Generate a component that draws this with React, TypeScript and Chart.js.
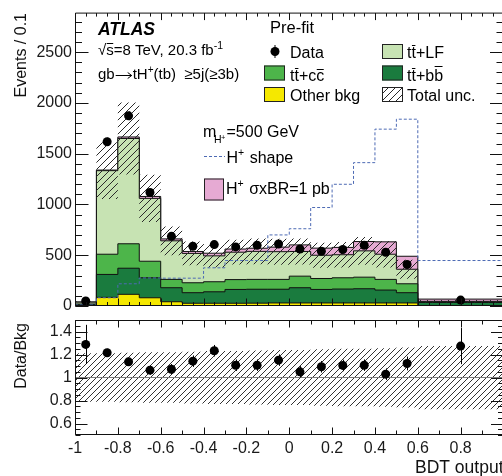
import { useEffect, useRef } from "react";
import { Chart, registerables } from "chart.js";

Chart.register(...registerables);

const FONT = "'Liberation Sans', Arial, Helvetica, sans-serif";

// ---------------- data ----------------
const binEdges = [-1, -0.9, -0.8, -0.7, -0.6, -0.5, -0.4, -0.3, -0.2, -0.1, 0, 0.1, 0.2, 0.3, 0.4, 0.5, 0.6, 1.0];
const otherBkg = [3, 85, 115, 81, 42, 27, 27, 27, 28, 30, 30, 30, 30, 30, 30, 30, 5];
const ttbb = [9, 226, 257, 197, 138, 104, 113, 136, 137, 135, 150, 133, 137, 140, 127, 101, 30];
const ttcc = [8, 199, 241, 163, 82, 98, 99, 97, 97, 97, 114, 108, 111, 114, 105, 88, 5];
const ttLF = [18, 823, 1037, 619, 380, 289, 255, 270, 276, 273, 243, 229, 227, 259, 248, 143, 6];
const hSignal = [2, 6, 15, 19, 19, 19, 26, 31, 31, 45, 65, 70, 72, 92, 122, 128, 22];
const hShape = [10, 81, 219, 276, 274, 274, 376, 448, 448, 700, 761, 970, 1199, 1412, 1742, 1840, 448];
const dataCounts = [49, 1618, 1873, 1118, 686, 588, 605, 582, 598, 611, 562, 539, 556, 598, 529, 409, 58];
const dataErr = [8, 40, 43, 33, 26, 24, 25, 24, 24, 25, 24, 23, 24, 24, 23, 20, 8];
const totalUnc = [0.21, 0.21, 0.215, 0.22, 0.22, 0.225, 0.23, 0.23, 0.235, 0.24, 0.24, 0.245, 0.25, 0.25, 0.255, 0.26, 0.275];
const ratioVals = [1.288, 1.215, 1.136, 1.064, 1.072, 1.142, 1.233, 1.107, 1.107, 1.151, 1.049, 1.093, 1.105, 1.107, 1.029, 1.122, 1.273];
const ratioErr = [0.17, 0.035, 0.035, 0.04, 0.045, 0.05, 0.05, 0.05, 0.05, 0.05, 0.05, 0.05, 0.05, 0.05, 0.05, 0.06, 0.157];

const mainYTicks = [0, 500, 1000, 1500, 2000, 2500];
const ratioYTicks = [0.6, 0.8, 1, 1.2, 1.4];
const ratioXTicks = [-1, -0.8, -0.6, -0.4, -0.2, 0, 0.2, 0.4, 0.6, 0.8];

// ---------------- colours ----------------
const C_OTHER = "#f5e800";
const C_BB = "#1a7b3e";
const C_CC = "#4db54a";
const C_LF = "#c7e3b3";
const C_SIG = "#e6aad3";
const C_SHAPE = "#4d6ab4";

// ---------------- helpers ----------------
const steps = (vals: number[]) => binEdges.map((x, i) => ({ x, y: vals[Math.min(i, vals.length - 1)] }));
const sumArr = (...arrs: number[][]) => arrs[0].map((_, i) => arrs.reduce((s, a) => s + a[i], 0));
const centers = dataCounts.map((_, i) => (binEdges[i] + binEdges[i + 1]) / 2);

const range = (a: number, b: number, step: number) => {
  const out: number[] = [];
  const n = Math.round((b - a) / step);
  for (let i = 0; i <= n; i++) out.push(+(a + i * step).toFixed(6));
  return out;
};

function makeHatch(target: HTMLCanvasElement, size: number, color: string, lw: number) {
  const pc = document.createElement("canvas");
  pc.width = size;
  pc.height = size;
  const g = pc.getContext("2d")!;
  g.strokeStyle = color;
  g.lineWidth = lw;
  g.beginPath();
  g.moveTo(0, size);
  g.lineTo(size, 0);
  g.moveTo(-1, 1);
  g.lineTo(1, -1);
  g.moveTo(size - 1, size + 1);
  g.lineTo(size + 1, size - 1);
  g.stroke();
  return target.getContext("2d")!.createPattern(pc, "repeat")!;
}

type FrameOpts = {
  xMajor: number[]; xMinor: number[]; xMajorLen: number; xMinorLen: number;
  yMajor: number[]; yMinor: number[]; yMajorLen: number; yMinorLen: number;
};

function drawFrame(chart: any, o: FrameOpts) {
  const { ctx, chartArea: a } = chart;
  const xs = chart.scales.x;
  const ys = chart.scales.y;
  const L = a.left + 0.5, R = a.right - 0.5, T = a.top + 0.5, B = a.bottom - 0.5;
  ctx.save();
  ctx.strokeStyle = "#111";
  ctx.lineWidth = 1;
  ctx.beginPath();
  ctx.rect(L, T, R - L, B - T);
  const tx = (v: number, len: number) => {
    const p = Math.round(xs.getPixelForValue(v)) + 0.5;
    ctx.moveTo(p, B); ctx.lineTo(p, B - len);
    ctx.moveTo(p, T); ctx.lineTo(p, T + len);
  };
  const ty = (v: number, len: number) => {
    const p = Math.round(ys.getPixelForValue(v)) + 0.5;
    ctx.moveTo(L, p); ctx.lineTo(L + len, p);
    ctx.moveTo(R, p); ctx.lineTo(R - len, p);
  };
  o.xMinor.forEach((v) => tx(v, o.xMinorLen));
  o.xMajor.forEach((v) => tx(v, o.xMajorLen));
  o.yMinor.forEach((v) => ty(v, o.yMinorLen));
  o.yMajor.forEach((v) => ty(v, o.yMajorLen));
  ctx.stroke();
  ctx.restore();
}

type Part = { t: string; size?: number; dy?: number; bar?: number; dx?: number; style?: string; arrow?: number };
function drawParts(ctx: CanvasRenderingContext2D, x: number, y: number, parts: Part[], base: number) {
  let cx = x;
  for (const p of parts) {
    const sz = p.size ?? base;
    cx += p.dx ?? 0;
    if (p.arrow) {
      // long right arrow drawn as a line with a head
      const ay = Math.round(y - 0.3 * sz) + 0.5;
      const x0 = cx + 1, x1 = cx + p.arrow - 1;
      ctx.save();
      ctx.strokeStyle = "#000";
      ctx.lineWidth = 1;
      ctx.beginPath();
      ctx.moveTo(x0, ay);
      ctx.lineTo(x1, ay);
      ctx.moveTo(x1 - 4, ay - 3);
      ctx.lineTo(x1, ay);
      ctx.lineTo(x1 - 4, ay + 3);
      ctx.stroke();
      ctx.restore();
      cx += p.arrow;
      continue;
    }
    ctx.font = `${p.style ?? ""} ${sz}px ${FONT}`;
    const yy = y + (p.dy ?? 0);
    ctx.fillText(p.t, cx, yy);
    const w = ctx.measureText(p.t).width;
    if (p.bar) {
      ctx.save();
      ctx.strokeStyle = "#000";
      ctx.lineWidth = 1;
      ctx.beginPath();
      const by = Math.round(yy - p.bar * sz) + 0.5;
      ctx.moveTo(cx + 0.5, by);
      ctx.lineTo(cx + w - 0.5, by);
      ctx.stroke();
      ctx.restore();
    }
    cx += w;
  }
  return cx;
}

function drawYTitle(ctx: CanvasRenderingContext2D, text: string, x: number, yTop: number, size: number) {
  ctx.save();
  ctx.translate(x, yTop);
  ctx.rotate(-Math.PI / 2);
  ctx.textAlign = "right";
  ctx.textBaseline = "alphabetic";
  ctx.font = `${size}px ${FONT}`;
  ctx.fillStyle = "#111";
  ctx.fillText(text, 0, 0);
  ctx.restore();
}

function drawErrBars(chart: any, xs: number[], ys: number[], es: number[]) {
  const { ctx } = chart;
  const sx = chart.scales.x;
  const sy = chart.scales.y;
  ctx.save();
  ctx.strokeStyle = "#000";
  ctx.lineWidth = 1;
  ctx.beginPath();
  xs.forEach((x, i) => {
    const px = Math.round(sx.getPixelForValue(x)) + 0.5;
    ctx.moveTo(px, sy.getPixelForValue(ys[i] - es[i]));
    ctx.lineTo(px, sy.getPixelForValue(ys[i] + es[i]));
  });
  ctx.stroke();
  ctx.restore();
}

export default function App() {
  const mainRef = useRef<HTMLCanvasElement>(null);
  const ratioRef = useRef<HTMLCanvasElement>(null);

  useEffect(() => {
    document.body.style.margin = "0";
    const mainCanvas = mainRef.current!;
    const ratioCanvas = ratioRef.current!;
    const hatchMain = makeHatch(mainCanvas, 7, "#2a2a2a", 1);
    const hatchRatio = makeHatch(ratioCanvas, 6, "#333", 1);

    const cumOther = otherBkg;
    const cumBB = sumArr(otherBkg, ttbb);
    const cumCC = sumArr(otherBkg, ttbb, ttcc);
    const cumLF = sumArr(otherBkg, ttbb, ttcc, ttLF);
    const cumSig = sumArr(otherBkg, ttbb, ttcc, ttLF, hSignal);
    const uncUp = cumLF.map((v, i) => v * (1 + totalUnc[i]));
    const uncDn = cumLF.map((v, i) => v * (1 - totalUnc[i]));

    const tickFont = { family: FONT, size: 16 };

    const layer = (vals: number[], color: string) => ({
      data: steps(vals),
      stepped: true,
      borderColor: "#111",
      borderWidth: 1,
      backgroundColor: color,
      fill: "origin",
      pointRadius: 0,
    });

    const mainFrame: FrameOpts = {
      xMajor: range(-1, 1, 0.2), xMinor: range(-1, 1, 0.05), xMajorLen: 7, xMinorLen: 3.5,
      yMajor: mainYTicks, yMinor: range(0, 2800, 100), yMajorLen: 13, yMinorLen: 6.5,
    };

    const mainPlugin = {
      id: "mainDecor",
      afterDatasetsDraw(chart: any) {
        drawErrBars(chart, centers, dataCounts, dataErr);
      },
      afterDraw(chart: any) {
        drawFrame(chart, mainFrame);
        const ctx: CanvasRenderingContext2D = chart.ctx;
        ctx.save();
        ctx.fillStyle = "#000";
        ctx.textAlign = "left";
        ctx.textBaseline = "alphabetic";
        drawYTitle(ctx, "Events / 0.1", 26, 13, 16);

        ctx.font = `bold italic 17.5px ${FONT}`;
        ctx.fillText("ATLAS", 98, 34.5);
        drawParts(ctx, 98, 55, [
          { t: "\u221A" },
          { t: "s", bar: 0.78 },
          { t: "=8 TeV, 20.3 fb" },
          { t: "-1", size: 10.5, dy: -6.5 },
        ], 15);
        drawParts(ctx, 98, 79, [
          { t: "gb" },
          { t: "", arrow: 18 },
          { t: "tH" },
          { t: "+", size: 10, dy: -6.5 },
          { t: "(tb)  \u22655j(\u22653b)" },
        ], 15);

        ctx.font = `16.5px ${FONT}`;
        ctx.fillText("Pre-fit", 270, 33);

        // Legend
        ctx.beginPath();
        ctx.arc(275, 51.5, 4.5, 0, Math.PI * 2);
        ctx.fill();
        ctx.fillRect(274.5, 45, 1, 13);
        drawParts(ctx, 290, 57.5, [{ t: "Data" }], 16);

        const box = (x: number, y: number, fill: any) => {
          ctx.save();
          ctx.fillStyle = "#fff";
          ctx.fillRect(x, y, 21, 15);
          ctx.fillStyle = fill;
          ctx.fillRect(x, y, 21, 15);
          ctx.strokeStyle = "#222";
          ctx.lineWidth = 1;
          ctx.strokeRect(x + 0.5, y + 0.5, 20, 14);
          ctx.restore();
        };
        box(382, 44, C_LF);
        drawParts(ctx, 407, 58, [{ t: "t" }, { t: "t", bar: 0.8 }, { t: "+LF" }], 16);
        box(264, 65.5, C_CC);
        drawParts(ctx, 290, 80.5, [{ t: "t" }, { t: "t", bar: 0.8 }, { t: "+c" }, { t: "c", bar: 0.7 }], 16);
        box(382, 65.5, C_BB);
        drawParts(ctx, 407, 80.5, [{ t: "t" }, { t: "t", bar: 0.8 }, { t: "+b" }, { t: "b", bar: 0.88 }], 16);
        box(264, 87, C_OTHER);
        drawParts(ctx, 290, 101, [{ t: "Other bkg" }], 16);
        box(382, 87, hatchMain);
        drawParts(ctx, 407, 101, [{ t: "Total unc." }], 16);

        // m_H+ annotation
        drawParts(ctx, 203, 136.5, [{ t: "m" }], 16);
        drawParts(ctx, 214, 143, [{ t: "H", size: 10.5 }], 10.5);
        drawParts(ctx, 221, 139.5, [{ t: "+", size: 7.5 }], 7.5);
        drawParts(ctx, 226.5, 136.5, [{ t: "=500 GeV" }], 16);

        // H+ shape
        ctx.save();
        ctx.strokeStyle = C_SHAPE;
        ctx.lineWidth = 1;
        ctx.setLineDash([3, 2]);
        ctx.beginPath();
        ctx.moveTo(204, 156.5);
        ctx.lineTo(225, 156.5);
        ctx.stroke();
        ctx.restore();
        drawParts(ctx, 226.5, 163, [{ t: "H" }, { t: "+", size: 10.5, dy: -7 }, { t: " shape", dx: 1 }], 16);

        // signal box
        ctx.save();
        ctx.fillStyle = C_SIG;
        ctx.fillRect(204, 178.5, 20, 22);
        ctx.strokeStyle = "#222";
        ctx.strokeRect(204.5, 179, 19, 21);
        ctx.restore();
        drawParts(ctx, 226, 193.5, [{ t: "H" }, { t: "+", size: 10.5, dy: -7 }, { t: " \u03C3xBR=1 pb", dx: 1 }], 16);
        ctx.restore();
      },
    };

    const c1 = new Chart(mainCanvas, {
      type: "line",
      data: {
        datasets: [
          {
            data: centers.map((x, i) => ({ x, y: dataCounts[i] })),
            showLine: false,
            pointRadius: 4.5,
            pointBackgroundColor: "#000",
            pointBorderColor: "#000",
            pointBorderWidth: 0,
            clip: false as any,
          },
          {
            data: steps(hShape),
            stepped: true,
            borderColor: C_SHAPE,
            borderWidth: 1,
            borderDash: [3, 2],
            fill: false,
            pointRadius: 0,
          },
          {
            data: steps(uncUp),
            stepped: true,
            borderWidth: 0,
            borderColor: "rgba(0,0,0,0)",
            backgroundColor: hatchMain as any,
            fill: "+1",
            pointRadius: 0,
          },
          {
            data: steps(uncDn),
            stepped: true,
            borderWidth: 0,
            borderColor: "rgba(0,0,0,0)",
            fill: false,
            pointRadius: 0,
          },
          layer(cumOther, C_OTHER),
          layer(cumBB, C_BB),
          layer(cumCC, C_CC),
          layer(cumLF, C_LF),
          layer(cumSig, C_SIG),
        ] as any,
      },
      options: {
        animation: false,
        responsive: false,
        devicePixelRatio: 1,
        layout: { padding: { left: 0, right: 3, top: 12, bottom: 170 } },
        plugins: { legend: { display: false }, tooltip: { enabled: false } },
        scales: {
          x: { type: "linear", min: -1, max: 1, display: false },
          y: {
            type: "linear",
            min: 0,
            max: 2890,
            grid: { display: false, drawTicks: false },
            border: { display: false },
            afterFit: (s: any) => { s.width = 75; },
            afterBuildTicks: (s: any) => { s.ticks = mainYTicks.map((v) => ({ value: v })); },
            ticks: { padding: 3, font: tickFont, color: "#1a1a1a", autoSkip: false, callback: (v: any) => String(v) },
          },
        },
      } as any,
      plugins: [mainPlugin],
    });

    const ratioFrame: FrameOpts = {
      xMajor: range(-1, 1, 0.2), xMinor: range(-1, 1, 0.1), xMajorLen: 7, xMinorLen: 4,
      yMajor: ratioYTicks, yMinor: range(0.5, 1.5, 0.05), yMajorLen: 12, yMinorLen: 5,
    };

    const ratioPlugin = {
      id: "ratioDecor",
      afterDatasetsDraw(chart: any) {
        drawErrBars(chart, centers, ratioVals, ratioErr);
      },
      afterDraw(chart: any) {
        drawFrame(chart, ratioFrame);
        const ctx: CanvasRenderingContext2D = chart.ctx;
        drawYTitle(ctx, "Data/Bkg", 26, 323, 16);
        ctx.save();
        ctx.fillStyle = "#111";
        ctx.font = `17.5px ${FONT}`;
        ctx.textAlign = "right";
        ctx.textBaseline = "alphabetic";
        ctx.fillText("BDT output", chart.chartArea.right, 473);
        ctx.restore();
      },
    };

    const c2 = new Chart(ratioCanvas, {
      type: "line",
      data: {
        datasets: [
          {
            data: centers.map((x, i) => ({ x, y: ratioVals[i] })),
            showLine: false,
            pointRadius: 4.5,
            pointBackgroundColor: "#000",
            pointBorderColor: "#000",
            pointBorderWidth: 0,
            clip: false as any,
          },
          {
            data: [{ x: -1, y: 1 }, { x: 1, y: 1 }],
            borderColor: "#7a7a7a",
            borderWidth: 1,
            fill: false,
            pointRadius: 0,
          },
          {
            data: steps(totalUnc.map((u) => 1 + u)),
            stepped: true,
            borderWidth: 0,
            borderColor: "rgba(0,0,0,0)",
            backgroundColor: hatchRatio as any,
            fill: "+1",
            pointRadius: 0,
          },
          {
            data: steps(totalUnc.map((u) => 1 - u)),
            stepped: true,
            borderWidth: 0,
            borderColor: "rgba(0,0,0,0)",
            fill: false,
            pointRadius: 0,
          },
        ] as any,
      },
      options: {
        animation: false,
        responsive: false,
        devicePixelRatio: 1,
        layout: { padding: { left: 0, right: 3, top: 320, bottom: 0 } },
        plugins: { legend: { display: false }, tooltip: { enabled: false } },
        scales: {
          x: {
            type: "linear",
            min: -1,
            max: 1,
            grid: { display: false, drawTicks: false },
            border: { display: false },
            afterFit: (s: any) => { s.height = 41; },
            afterBuildTicks: (s: any) => { s.ticks = ratioXTicks.map((v) => ({ value: v })); },
            ticks: { padding: 4, font: tickFont, color: "#1a1a1a", autoSkip: false, maxRotation: 0, minRotation: 0, callback: (v: any) => String(v) },
          },
          y: {
            type: "linear",
            min: 0.5,
            max: 1.5,
            grid: { display: false, drawTicks: false },
            border: { display: false },
            afterFit: (s: any) => { s.width = 75; },
            afterBuildTicks: (s: any) => { s.ticks = ratioYTicks.map((v) => ({ value: v })); },
            ticks: { padding: 3, font: tickFont, color: "#1a1a1a", autoSkip: false, callback: (v: any) => String(v) },
          },
        },
      } as any,
      plugins: [ratioPlugin],
    });

    return () => {
      c1.destroy();
      c2.destroy();
    };
  }, []);

  return (
    <div style={{ position: "relative", width: 502, height: 476, overflow: "hidden", background: "#fff" }}>
      <canvas ref={mainRef} width={508} height={476} style={{ position: "absolute", left: 0, top: 0, width: 508, height: 476 }} />
      <canvas ref={ratioRef} width={508} height={476} style={{ position: "absolute", left: 0, top: 0, width: 508, height: 476 }} />
    </div>
  );
}
